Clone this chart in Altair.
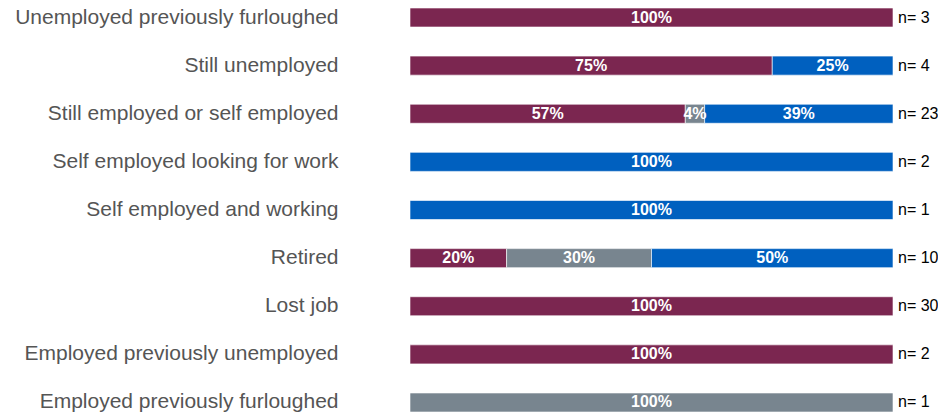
import altair as alt
import pandas as pd

categories = [
    "Unemployed previously furloughed",
    "Still unemployed",
    "Still employed or self employed",
    "Self employed looking for work",
    "Self employed and working",
    "Retired",
    "Lost job",
    "Employed previously unemployed",
    "Employed previously furloughed",
]
series = ["Worse", "Same", "Better"]
worse = [100, 75, 57, 0, 0, 20, 100, 100, 0]
same = [0, 0, 4, 0, 0, 30, 0, 0, 100]
better = [0, 25, 39, 100, 100, 50, 0, 0, 0]
n_values = [3, 4, 23, 2, 1, 10, 30, 2, 1]
colors = ["#7B2650", "#78858F", "#0060BF"]

rows = []
for i, cat in enumerate(categories):
    start = 0
    for s, vals in zip(series, [worse, same, better]):
        v = vals[i]
        if v > 0:
            rows.append({"category": cat, "series": s, "value": v,
                         "start": start, "end": start + v,
                         "mid": start + v / 2, "label": f"{v}%"})
        start += v
df = pd.DataFrame(rows)
ndf = pd.DataFrame({"category": categories, "total": [100] * len(categories),
                    "nlabel": [f"n= {n}" for n in n_values]})

y = alt.Y("category:N", sort=categories,
          scale=alt.Scale(paddingInner=0.605, paddingOuter=0),
          axis=alt.Axis(title=None, domain=False, ticks=False, labelPadding=72,
                        labelFontSize=21, labelColor="#555555",
                        labelFont="Liberation Sans", labelLimit=400))
x = alt.X("start:Q", scale=alt.Scale(domain=[0, 100], nice=False),
          axis=None)

bars = alt.Chart(df).mark_bar(stroke="white", strokeWidth=1, strokeOpacity=0.6).encode(
    y=y, x=x, x2="end:Q",
    color=alt.Color("series:N", scale=alt.Scale(domain=series, range=colors), legend=None),
)
labels = alt.Chart(df).mark_text(color="white", fontWeight="bold", fontSize=16,
                                 font="Liberation Sans", align="center", baseline="middle").encode(
    y=alt.Y("category:N", sort=categories), x=alt.X("mid:Q"), text="label:N"
)
nlab = alt.Chart(ndf).mark_text(color="black", fontSize=16, font="Liberation Sans",
                                align="left", baseline="middle", dx=5).encode(
    y=alt.Y("category:N", sort=categories), x=alt.X("total:Q"), text="nlabel:N"
)

chart = alt.layer(bars, labels, nlab).properties(
    width=483, height=404,
    autosize=alt.AutoSizeParams(type="none"),
    padding={"left": 402, "top": 0, "right": 45, "bottom": 0},
).configure_view(stroke=None)

chart.save("out.html", embed_options={"renderer": "svg", "actions": False})
